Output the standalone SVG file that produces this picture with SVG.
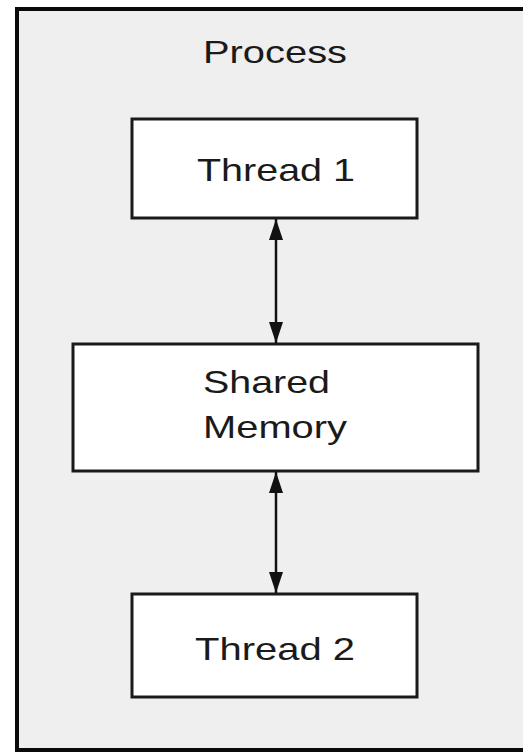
<svg xmlns="http://www.w3.org/2000/svg" width="523" height="752" viewBox="0 0 523 752">
<defs>
<marker id="ah" markerWidth="22" markerHeight="14" refX="21" refY="7" orient="auto-start-reverse" markerUnits="userSpaceOnUse" viewBox="0 0 22 14">
<path d="M0,0 L21,7 L0,14 Z" fill="#111"/>
</marker>
<style>
.box{fill:#ffffff;stroke:#1a1a1a;stroke-width:3}
.lbl{font-family:"Liberation Sans",Arial,sans-serif;font-size:32px;fill:#1a1a1a}
.conn{stroke:#111;stroke-width:2.5;fill:none}
</style>
</defs>
<rect width="523" height="752" fill="#ffffff"/>
<g id="process">
<rect x="17" y="9" width="520" height="741" fill="#efefef" stroke="#0a0a0a" stroke-width="4"/>
<text class="lbl" x="203" y="63" textLength="144" lengthAdjust="spacingAndGlyphs">Process</text>
</g>
<g id="thread1">
<rect class="box" x="132" y="119" width="285" height="99"/>
<text class="lbl" x="197" y="181" textLength="158" lengthAdjust="spacingAndGlyphs">Thread 1</text>
</g>
<g id="shared-memory">
<rect class="box" x="73" y="344" width="405" height="127"/>
<text class="lbl" x="203" y="393" textLength="127" lengthAdjust="spacingAndGlyphs">Shared</text>
<text class="lbl" x="203" y="438" textLength="144" lengthAdjust="spacingAndGlyphs">Memory</text>
</g>
<g id="thread2">
<rect class="box" x="132" y="594" width="285" height="103"/>
<text class="lbl" x="195" y="660" textLength="160" lengthAdjust="spacingAndGlyphs">Thread 2</text>
</g>
<g id="connectors">
<line class="conn" x1="276" y1="219" x2="276" y2="343" marker-start="url(#ah)" marker-end="url(#ah)"/>
<line class="conn" x1="276" y1="472" x2="276" y2="593" marker-start="url(#ah)" marker-end="url(#ah)"/>
</g>
</svg>
